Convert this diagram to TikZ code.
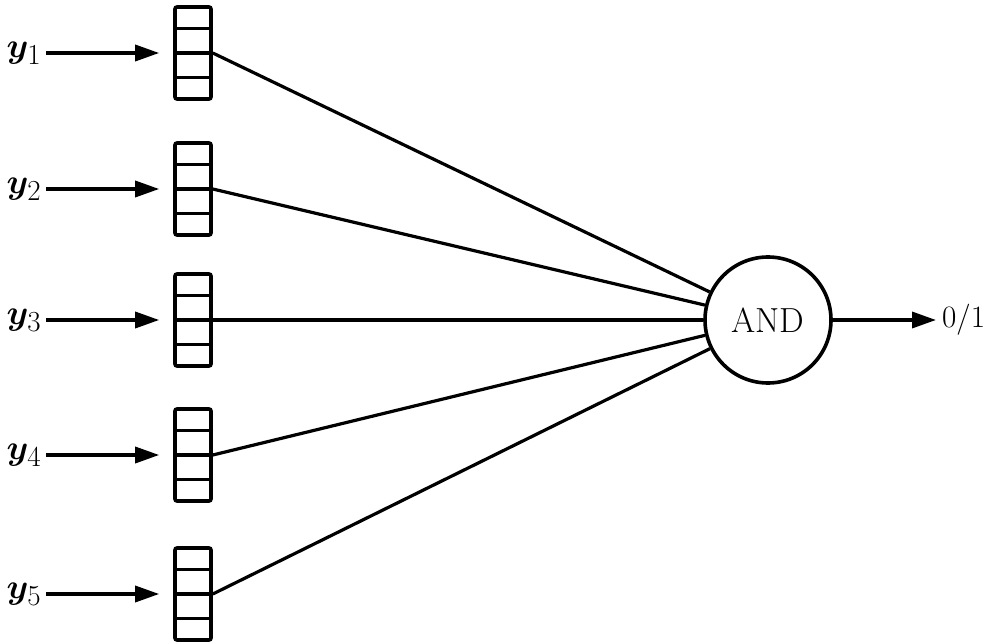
\documentclass[tikz,border=0pt]{standalone}
\usepackage{graphicx}
\usepackage{bm}
\usetikzlibrary{arrows.meta}
\begin{document}
\begin{tikzpicture}[x=1pt,y=-1pt,
  reg/.style={draw, line width=3.6pt, minimum width=36pt, minimum height=92pt,
              inner sep=0pt, rounded corners=2pt},
  cell/.style={line width=3.2pt},
  lbl/.style={inner ysep=0pt, inner xsep=5pt, font=\Huge},
  feed/.style={line width=3.4pt, -{Triangle[length=24pt,width=16pt]}, shorten >=14pt},
  wire/.style={line width=3.2pt},
  gate/.style={circle, draw, line width=3.6pt, minimum size=126pt, inner sep=0pt,
               font=\Huge},
  outlbl/.style={inner sep=0pt, font=\Huge}]
\useasboundingbox (0,0) rectangle (985,644);

% the AND gate and its output
\node[gate] (and) at (768,320) {\scalebox{1.4}{AND}};
\node[outlbl, anchor=west] (out) at (942,320) {\scalebox{1.25}{0/1}};
\draw[feed, shorten >=6pt] (and) -- (out);

% five four-cell registers
\node[reg] (b1) at (193,53) {};
\node[reg] (b2) at (193,189) {};
\node[reg] (b3) at (193,320) {};
\node[reg] (b4) at (193,455) {};
\node[reg] (b5) at (193,594) {};

% cell dividers
\draw[cell] (b1.north west) ++(0,23) -- ++(36,0) (b1.west) -- (b1.east) (b1.south west) ++(0,-23) -- ++(36,0);
\draw[cell] (b2.north west) ++(0,23) -- ++(36,0) (b2.west) -- (b2.east) (b2.south west) ++(0,-23) -- ++(36,0);
\draw[cell] (b3.north west) ++(0,23) -- ++(36,0) (b3.west) -- (b3.east) (b3.south west) ++(0,-23) -- ++(36,0);
\draw[cell] (b4.north west) ++(0,23) -- ++(36,0) (b4.west) -- (b4.east) (b4.south west) ++(0,-23) -- ++(36,0);
\draw[cell] (b5.north west) ++(0,23) -- ++(36,0) (b5.west) -- (b5.east) (b5.south west) ++(0,-23) -- ++(36,0);

% input labels
\node[lbl] (l1) at (24,53) {\scalebox{1.4}{$\bm{y}_{1}$}};
\node[lbl] (l2) at (24,189) {\scalebox{1.4}{$\bm{y}_{2}$}};
\node[lbl] (l3) at (24,320) {\scalebox{1.4}{$\bm{y}_{3}$}};
\node[lbl] (l4) at (24,455) {\scalebox{1.4}{$\bm{y}_{4}$}};
\node[lbl] (l5) at (24,594) {\scalebox{1.4}{$\bm{y}_{5}$}};

% inputs into the registers
\draw[feed] (l1.east) -- (b1.west);
\draw[feed] (l2.east) -- (b2.west);
\draw[feed] (l3.east) -- (b3.west);
\draw[feed] (l4.east) -- (b4.west);
\draw[feed] (l5.east) -- (b5.west);

% registers into the gate
\draw[wire] (b1.east) -- (and);
\draw[wire] (b2.east) -- (and);
\draw[wire] (b3.east) -- (and);
\draw[wire] (b4.east) -- (and);
\draw[wire] (b5.east) -- (and);
\end{tikzpicture}
\end{document}
